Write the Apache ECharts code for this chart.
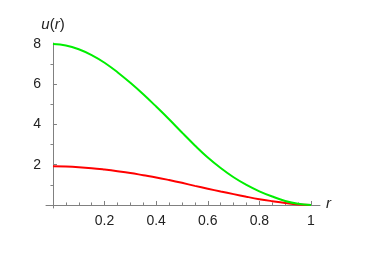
<!DOCTYPE html>
<html>
<head>
<meta charset="utf-8">
<script src="https://cdn.jsdelivr.net/npm/echarts@6/dist/echarts.min.js"></script>
<style>html,body{margin:0;padding:0;background:#fff}#c{width:374px;height:264px}</style>
</head>
<body>
<div id="c"></div>
<script>
var rValues = [0, 0.05, 0.1, 0.15, 0.2, 0.25, 0.3, 0.35, 0.4, 0.45, 0.5, 0.55, 0.6, 0.65, 0.7, 0.75, 0.8, 0.85, 0.9, 0.95, 1.0];
var greenValues = [8.0, 7.93, 7.74, 7.45, 7.07, 6.6, 6.07, 5.5, 4.89, 4.26, 3.6, 2.96, 2.36, 1.84, 1.38, 1.0, 0.68, 0.42, 0.2, 0.06, 0];
var redValues = [1.92, 1.91, 1.88, 1.83, 1.76, 1.68, 1.59, 1.48, 1.37, 1.24, 1.1, 0.95, 0.81, 0.67, 0.54, 0.41, 0.29, 0.19, 0.1, 0.03, 0];
var xMajorTicks = [0.2, 0.4, 0.6, 0.8, 1];
var xMinorTicks = [0.05, 0.1, 0.15, 0.25, 0.3, 0.35, 0.45, 0.5, 0.55, 0.65, 0.7, 0.75, 0.85, 0.9, 0.95];
var yMajorTicks = [2, 4, 6, 8];
var yMinorTicks = [1, 3, 5, 7];

function pairs(ys) { return rValues.map(function (r, i) { return [r, ys[i]]; }); }

var axisColor = '#808080';
var fontFamily = 'Liberation Sans, Arial';

var chart = echarts.init(document.getElementById('c'), null, { renderer: 'canvas' });
chart.setOption({
  animation: false,
  grid: { left: 46, right: 54, top: 43, bottom: 56, containLabel: false },
  xAxis: [{
    type: 'value', min: -0.027, max: 1.035,
    axisLine: { onZero: true, lineStyle: { color: axisColor, width: 1 } },
    axisTick: { show: true, inside: true, length: 4, customValues: xMajorTicks, lineStyle: { color: axisColor } },
    axisLabel: { customValues: xMajorTicks, margin: 6, formatter: function (v) { return String(+v.toFixed(2)); }, fontFamily: fontFamily, fontSize: 14, color: '#222' },
    splitLine: { show: false },
    name: 'r', nameLocation: 'end', nameGap: 6,
    nameTextStyle: { fontFamily: fontFamily, fontSize: 15, fontStyle: 'italic', color: '#222', verticalAlign: 'bottom', padding: [0, 0, -6, 0] }
  }, {
    type: 'value', min: -0.027, max: 1.035, position: 'bottom',
    axisLine: { show: false, onZero: true },
    axisTick: { show: true, inside: true, length: 2.5, customValues: xMinorTicks, lineStyle: { color: axisColor } },
    axisLabel: { show: false },
    splitLine: { show: false }
  }],
  yAxis: [{
    type: 'value', min: -0.15, max: 8.05,
    axisLine: { onZero: true, lineStyle: { color: axisColor, width: 1 } },
    axisTick: { show: true, inside: true, length: 4, customValues: yMajorTicks, lineStyle: { color: axisColor } },
    axisLabel: { customValues: yMajorTicks, margin: 5, fontFamily: fontFamily, fontSize: 14, color: '#222' },
    splitLine: { show: false },
    name: '{i|u}{n|(}{i|r}{n|)}', nameLocation: 'end', nameGap: 11,
    nameTextStyle: {
      align: 'center',
      rich: {
        i: { fontFamily: fontFamily, fontSize: 15, fontStyle: 'italic', color: '#222' },
        n: { fontFamily: fontFamily, fontSize: 15, color: '#222' }
      }
    }
  }, {
    type: 'value', min: -0.15, max: 8.05,
    axisLine: { show: false, onZero: true },
    axisTick: { show: true, inside: true, length: 2.5, customValues: yMinorTicks, lineStyle: { color: axisColor } },
    axisLabel: { show: false },
    splitLine: { show: false }
  }],
  series: [{
    type: 'line', data: pairs(greenValues), smooth: 0.4, showSymbol: false,
    lineStyle: { color: '#00ee00', width: 2 }, z: 3
  }, {
    type: 'line', data: pairs(redValues), smooth: 0.4, showSymbol: false,
    lineStyle: { color: '#ff0000', width: 2 }, z: 2
  }]
});
</script>
</body>
</html>
